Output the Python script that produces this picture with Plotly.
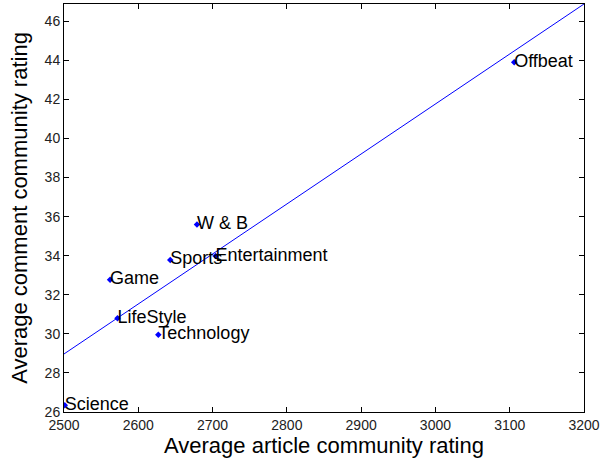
import plotly.graph_objects as go

# Average ratings per section
sections = ["Science", "LifeStyle", "Game", "Technology", "Sports",
            "W & B", "Entertainment", "Offbeat"]
article_rating = [2501, 2572, 2562, 2627, 2643, 2679, 2704, 3106]
comment_rating = [26.35, 30.8, 32.77, 29.95, 33.78, 35.59, 33.98, 43.9]

# Fitted trend line endpoints
fit_x = [2500, 3200]
fit_y = [28.97, 46.88]

x_ticks = list(range(2500, 3201, 100))
y_ticks = list(range(26, 47, 2))

fig = go.Figure()
fig.add_trace(go.Scatter(
    x=fit_x, y=fit_y, mode="lines",
    line=dict(color="#0000FF", width=1), hoverinfo="skip",
))
fig.add_trace(go.Scatter(
    x=article_rating, y=comment_rating, mode="markers",
    marker=dict(color="#0000FF", size=5, symbol="diamond"),
))
# Section names, left edge at each point
fig.add_trace(go.Scatter(
    x=article_rating, y=comment_rating, mode="text",
    text=sections, textposition="middle right",
    textfont=dict(family="Liberation Sans, Arial", size=18, color="black"),
    cliponaxis=False, hoverinfo="skip",
))

axis_common = dict(
    showline=True, linecolor="black", linewidth=1, mirror="ticks",
    ticks="inside", ticklen=5, tickcolor="black", showgrid=False,
    zeroline=False,
    tickfont=dict(family="Liberation Sans Narrow, Arial Narrow, Liberation Sans",
                  size=14, color="#222"),
)

fig.update_xaxes(
    range=[2500, 3200], tickvals=x_ticks,
    title=dict(text="Average article community rating",
               font=dict(family="Liberation Sans, Arial", size=22, color="black"),
               standoff=4),
    **axis_common,
)
fig.update_yaxes(
    range=[26, 46.88], tickvals=y_ticks,
    title=dict(text="Average comment community rating",
               font=dict(family="Liberation Sans, Arial", size=22, color="black"),
               standoff=10),
    **axis_common,
)

fig.update_layout(
    width=613, height=465,
    margin=dict(l=64, r=29, t=4, b=53),
    plot_bgcolor="white", paper_bgcolor="white",
    showlegend=False,
)

fig.write_html("out.html")
